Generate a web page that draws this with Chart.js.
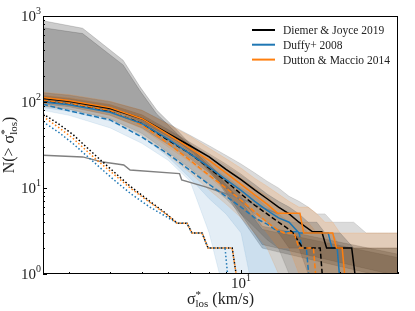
<!DOCTYPE html>
<html><head><meta charset="utf-8">
<script src="https://cdn.jsdelivr.net/npm/chart.js@4.4.1/dist/chart.umd.min.js"></script>
<style>html,body{margin:0;padding:0;background:#fff;}#wrap{width:415px;height:311px;}</style>
</head><body><div id="wrap"><canvas id="c" width="415" height="311"></canvas></div>
<script>
// ---------------- data ----------------
// solid lines
const djX = [2.5,3,4,5,6,7,8,9,10,11,12,13,14,15,16.5,17.6,18.2,21.7,22.7];
const djY = [110,102,84,64,43,31,23,16.5,12.5,9.5,7.5,6,5,4,3.1,3.1,2,2,0.5];
const dmX = [2.5,3,4,5,6,7,8,9,10,11,12,12.9,15.1,15.5,19,19.5,20.3,21];
const dmY = [113,104,86,64,42,29,21,15,11,8.3,6.5,5.1,5.1,3,3,2,2,0.5];
const duX = [2.5,3,4,5,6,7,8,9,10,11,12,13,14,15,18.4,18.9,19.6,20.2];
const duY = [100,93,76,56,37,25,17.5,12.5,9.4,7,5.5,4.5,4,3,3,2,2,0.5];
// dashed lines
const djdX = [2.5,3,4,5,6,7,8,9,10,11,12,13,14,14.4,15.4,17.4,17.9];
const djdY = [103,96,78,56,36,25,17,12,8.5,6.3,5,4,3.3,3,2,2,0.5];
const dmdX = [2.5,3,4,5,6,7,8,9,10,11,12,13,13.5,14.5,15,16.6,17.1];
const dmdY = [105,97,80,54,33,21,14,10,7.2,5.3,4,3.2,3,3,2,2,0.5];
const dudX = [2.5,3,4,5,6,7,8,9,10,11,12,13,15,15.3,15.8,16.3];
const dudY = [94,79,62,39,25,16,11,8,6,4.5,3.8,3.1,3.1,2,2,0.5];
// dotted lines
const dotX  = [2.5,2.8,3.08,3.65,4.1,4.6,5.28,5.9,6.39,6.85,7.09,7.61,7.94,9.4,9.93];
const dotDj = [73,55,42,23,15.5,10.5,7,5.1,3.9,3.9,3.0,3.0,2.0,2.0,0.5];
const dotDm = [68,50,38,21,14.5,10,6.8,5.0,3.9,3.9,3.0,3.0,2.0,2.0,0.5];
const dotDuX = [2.5,2.8,3.08,3.65,4.1,4.6,5.28,5.95,6.39,6.85,7.09,7.61,7.94,8.94,9.26];
const dotDu = [59,44,33,18.5,12.5,8.7,6.0,4.6,3.9,3.9,3.0,3.0,2.0,2.0,0.5];
// grey observed line
const obsX = [2.5,3.3,3.8,4.2,4.4,4.6,6.5,6.6,7.8,8.9,10,11.5,13];
const obsY = [24,23,20,19,18.5,16.2,14.7,12.4,10.3,8.7,7.5,6,5];
// big grey band
const gbX = [2.5,3.3,4.38,4.93,5.55,6.39,7.14,8.5,10,11.6,30];
const gbOutHi = [880,720,306,150,80,47,30,15,8,3.6,1.7];
const gbOutLo = [100,92,72,58,45,33,25,12,4.5,2.0,0.85];
const gbInHi  = [730,625,270,135,72,43,28,14,7,3.3,1.55];
const gbInLo  = [104,95,75,60,47,35,26,12.5,5,2.2,0.95];
// model bands on common grid
const BX = [2.5,3,4,5,6,7,8,9,10,11,12,13,14,15,16,17,18,19,20,22,24,26,28,30];
const djHi  = [128,120,101,80,56,41,31,24,19,15,12,10,8,7,6,5,5,4,4,4,3,3,3,3];
const djLo  = [95,88,70,50,32,22,15,10,7,5,4,3,2,2,1,1,0.5,0.5,0.5,0.5,0.5,0.5,0.5,0.5];
const dmHi  = [130,122,102,80,55,40,29,22,17,13,10.5,8.5,7,6,6,5,4,4,3,3,3,3,3,3];
const dmLo  = [97,90,70,49,30,20,13.5,9,6,4.5,3,2,2,1,1,0.5,0.5,0.5,0.5,0.5,0.5,0.5,0.5,0.5];
const duHi  = [115,108,90,68,47,33,24,18,14,11,8.5,7,6,5,4,4,3,3,3,2,2,2,2,2];
const duLo  = [86,78,60,40,23,13,7.5,5,3,0.5,0.5,0.5,0.5,0.5,0.5,0.5,0.5,0.5,0.5,0.5,0.5,0.5,0.5,0.5];
const djdHi = [118,110,93,71,48,34,25,19,14.5,11,8.5,7,6,5,4,4,3,3,3,2,2,2,2,2];
const djdLo = [89,82,64,43,26,17,11,7.5,5,3.5,2.5,2,1,1,0.5,0.5,0.5,0.5,0.5,0.5,0.5,0.5,0.5,0.5];
const dmdHi = [120,112,93,70,46,32,23,17,13,10,8,6,5,4,4,3,3,3,2,2,2,2,2,2];
const dmdLo = [90,83,64,41,24,15,9.5,6.5,4.5,3,2,1,1,0.5,0.5,0.5,0.5,0.5,0.5,0.5,0.5,0.5,0.5,0.5];
const dudHi = [108,100,80,57,38,26,18,13.5,10,8,6,5,4,4,3,3,3,2,2,2,2,2,2,2];
const dudLo = [80,70,50,33,21,12,3,0.5,0.5,0.5,0.5,0.5,0.5,0.5,0.5,0.5,0.5,0.5,0.5,0.5,0.5,0.5,0.5,0.5];
// ticks & labels
const yTickExps = [0,1,2,3];
const xMajor = [10];
const xMinor = [3,4,5,6,7,8,9,20,30];
const legendLabels = ['Diemer & Joyce 2019','Duffy+ 2008','Dutton & Maccio 2014'];

const BLACK='#000000', BLUE='#1f77b4', ORANGE='#ff7f0e', GREY='#808080';
const SERIF = '"Liberation Serif","DejaVu Serif",serif';

// --------------- build ---------------
const pts = (xs, ys) => xs.map((x,i)=>({x:x, y:ys[i]}));
function line(xs, ys, color, dash, w){
  return {data: pts(xs,ys), borderColor: color, borderWidth: w||1.5, borderDash: dash||[],
    borderCapStyle:'butt', pointRadius:0, fill:false, tension:0};
}
const datasets = [];
function band(xs, hi, lo, color){
  datasets.push({data: pts(xs,hi), borderColor: color, backgroundColor: color, borderWidth: 0.8, pointRadius:0, fill:'+1', tension:0});
  datasets.push({data: pts(xs,lo), borderColor: color, borderWidth: 0.8, pointRadius:0, fill:false, tension:0});
}
// lines (top first)
datasets.push(line(dmX, dmY, ORANGE));
datasets.push(line(djX, djY, BLACK));
datasets.push(line(duX, duY, BLUE));
datasets.push(line(dmdX, dmdY, ORANGE, [5,2.5]));
datasets.push(line(djdX, djdY, BLACK, [5,2.5]));
datasets.push(line(dudX, dudY, BLUE, [5,2.5]));
datasets.push(line(dotX, dotDm, ORANGE, [1.5,2.2]));
datasets.push(line(dotDuX, dotDu, BLUE, [1.5,2.2]));
datasets.push(line(dotX, dotDj, BLACK, [1.5,2.2]));
datasets.push(line(obsX, obsY, GREY, [], 1.5));
// bands
const cO='rgba(255,127,14,0.17)', cK='rgba(0,0,0,0.14)', cB='rgba(31,119,180,0.12)';
band(BX, dmHi, dmLo, cO);
band(BX, djHi, djLo, cK);
band(BX, duHi, duLo, cB);
band(BX, dmdHi, dmdLo, cO);
band(BX, djdHi, djdLo, cK);
band(BX, dudHi, dudLo, cB);
band(gbX, gbInHi, gbInLo, 'rgba(0,0,0,0.2)');
band(gbX, gbOutHi, gbOutLo, 'rgba(0,0,0,0.2)');

function drawRich(ctx, parts, cx, base){
  const widths=[];
  parts.forEach(p=>{ctx.font=p.size+'px '+SERIF; widths.push(ctx.measureText(p.t).width);});
  let total=0; parts.forEach((p,i)=>{ if(p.stack){ total += Math.max(0, widths[i]-widths[i-1]); } else total += widths[i]; });
  let x = cx - total/2, prevX = x;
  parts.forEach((p,i)=>{
    ctx.font=p.size+'px '+SERIF;
    if(p.stack){ ctx.fillText(p.t, prevX, base+p.dy); x = prevX + Math.max(widths[i], widths[i-1]); }
    else { ctx.fillText(p.t, x, base+p.dy); prevX = x; x += widths[i]; }
  });
}

const deco = {
  id:'deco',
  afterDraw(chart){
    const {ctx, chartArea:a, scales:{x, y}} = chart;
    ctx.save();
    ctx.strokeStyle='#000'; ctx.lineWidth=1;
    ctx.strokeRect(a.left+0.5, a.top+0.5, a.right-a.left-1, a.bottom-a.top-1);
    ctx.beginPath();
    yTickExps.forEach(e=>{
      const v=Math.pow(10,e);
      const py=Math.round(y.getPixelForValue(v))+0.5;
      ctx.moveTo(a.left, py); ctx.lineTo(a.left+4, py);
      if(e<3){ for(let k=2;k<10;k++){ const q=Math.round(y.getPixelForValue(k*v))+0.5; ctx.moveTo(a.left,q); ctx.lineTo(a.left+2,q);} }
    });
    xMajor.forEach(v=>{const px=Math.round(x.getPixelForValue(v))+0.5; ctx.moveTo(px,a.bottom); ctx.lineTo(px,a.bottom-4);});
    xMinor.forEach(v=>{const px=Math.round(x.getPixelForValue(v))+0.5; ctx.moveTo(px,a.bottom); ctx.lineTo(px,a.bottom-2);});
    ctx.stroke();
    ctx.fillStyle='#222'; ctx.textBaseline='alphabetic'; ctx.textAlign='left';
    yTickExps.forEach(e=>{
      const py=y.getPixelForValue(Math.pow(10,e));
      ctx.font='15px '+SERIF; const w1=ctx.measureText('10').width;
      ctx.font='10px '+SERIF; const w2=ctx.measureText(String(e)).width;
      const x0=a.left-2-w1-w2;
      ctx.font='15px '+SERIF; ctx.fillText('10', x0, py+5);
      ctx.font='10px '+SERIF; ctx.fillText(String(e), x0+w1, py-2.5);
    });
    xMajor.forEach(v=>{
      const px=x.getPixelForValue(v);
      ctx.font='15px '+SERIF; const w1=ctx.measureText('10').width;
      ctx.font='10px '+SERIF; const w2=ctx.measureText('1').width;
      const x0=px-(w1+w2)/2;
      ctx.font='15px '+SERIF; ctx.fillText('10', x0, a.bottom+14);
      ctx.font='10px '+SERIF; ctx.fillText(String(Math.round(Math.log10(v))), x0+w1, a.bottom+7);
    });
    drawRich(ctx, [{t:'σ',size:16,dy:0},{t:'*',size:11,dy:-6},{t:'los',size:11,dy:3,stack:true},{t:' (km/s)',size:16,dy:0}], (a.left+a.right)/2, 304);
    ctx.save();
    ctx.translate(14,(a.top+a.bottom)/2); ctx.rotate(-Math.PI/2);
    drawRich(ctx, [{t:'N(> σ',size:16,dy:0},{t:'*',size:11,dy:-6},{t:'los',size:11,dy:3,stack:true},{t:')',size:16,dy:0}], 0, 0);
    ctx.restore();
    const cols=[BLACK,BLUE,ORANGE], ly=[30,44.7,59.6];
    legendLabels.forEach((t,i)=>{
      ctx.strokeStyle=cols[i]; ctx.lineWidth=2; ctx.beginPath();
      ctx.moveTo(252,ly[i]); ctx.lineTo(275,ly[i]); ctx.stroke();
      ctx.fillStyle='#222'; ctx.font='11.5px '+SERIF; ctx.fillText(t, 283, ly[i]+4);
    });
    ctx.restore();
  }
};

new Chart(document.getElementById('c'), {
  type:'line',
  data:{datasets: datasets},
  options:{
    responsive:false, animation:false, devicePixelRatio:1,
    layout:{padding:{left:43, top:16, right:17, bottom:37}},
    plugins:{legend:{display:false}, tooltip:{enabled:false}},
    scales:{
      x:{type:'logarithmic', min:2.5, max:30, display:false},
      y:{type:'logarithmic', min:1, max:1000, display:false}
    }
  },
  plugins:[deco]
});
</script></body></html>
